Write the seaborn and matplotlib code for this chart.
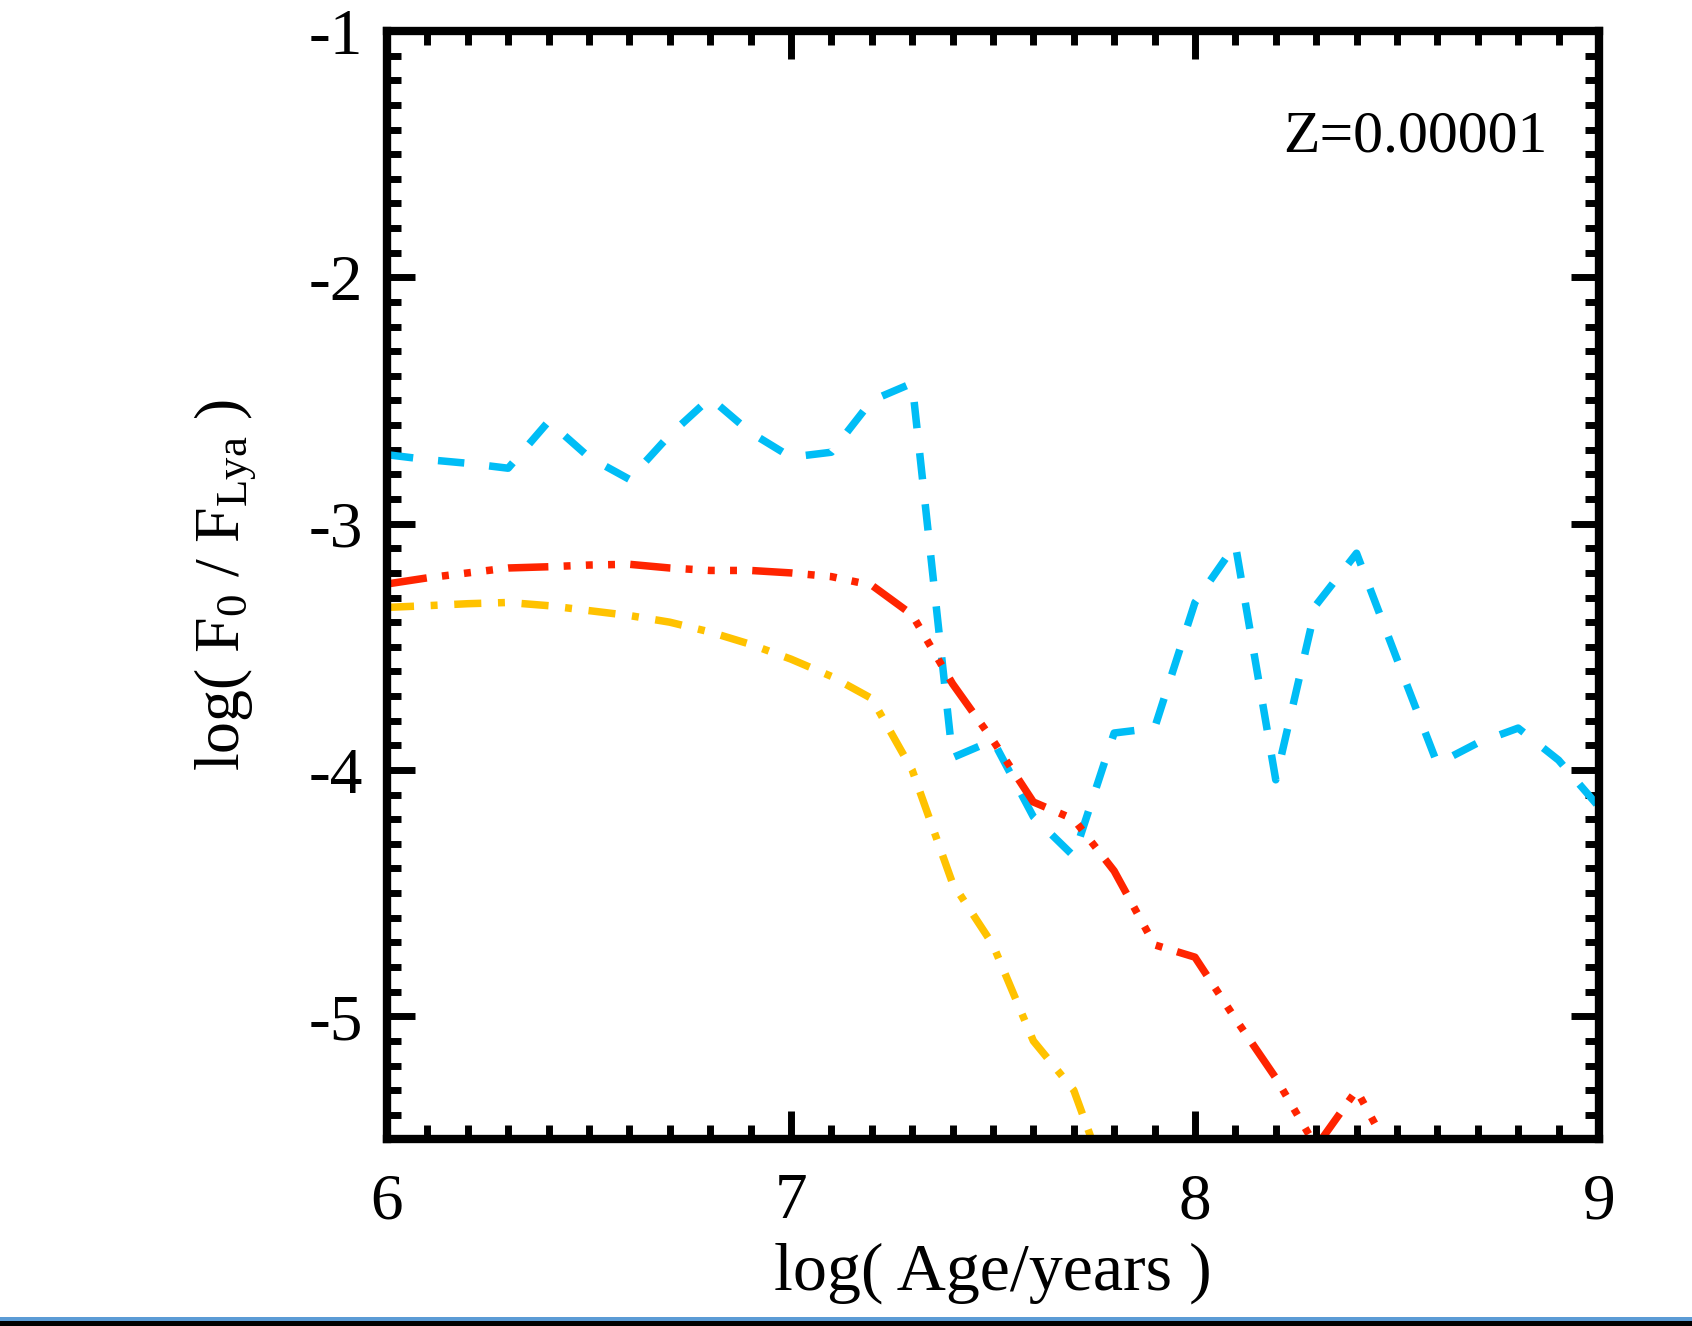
import numpy as np
import pandas as pd
import matplotlib
matplotlib.use("Agg")
import matplotlib.pyplot as plt
from matplotlib.patches import Rectangle
from matplotlib.ticker import MultipleLocator
import seaborn as sns

# log(Age/years) grid
age_blue = [6.0, 6.1, 6.2, 6.3, 6.4, 6.5, 6.6, 6.7, 6.8, 6.9, 7.0, 7.1, 7.2, 7.3,
            7.4, 7.5, 7.6, 7.7, 7.8, 7.9, 8.0, 8.1, 8.2, 8.3, 8.4, 8.5, 8.6,
            8.7, 8.8, 8.9, 9.0]
ratio_blue = [-2.72, -2.74, -2.755, -2.775, -2.585, -2.73, -2.82, -2.64, -2.49,
              -2.63, -2.73, -2.71, -2.50, -2.43, -3.95, -3.88, -4.19, -4.35,
              -3.85, -3.83, -3.32, -3.085, -4.04, -3.33, -3.12, -3.55, -3.975,
              -3.89, -3.83, -3.96, -4.15]

age_red = [6.0, 6.1, 6.2, 6.3, 6.4, 6.5, 6.6, 6.7, 6.8, 6.9, 7.0, 7.1, 7.2, 7.3,
           7.4, 7.5, 7.6, 7.7, 7.8, 7.9, 8.0, 8.1, 8.2, 8.3, 8.4, 8.5]
ratio_red = [-3.245, -3.22, -3.20, -3.18, -3.175, -3.168, -3.165, -3.18, -3.19,
             -3.19, -3.20, -3.215, -3.25, -3.37, -3.65, -3.88, -4.13, -4.20,
             -4.41, -4.71, -4.76, -5.01, -5.25, -5.53, -5.30, -5.60]

age_yellow = [6.0, 6.1, 6.2, 6.3, 6.4, 6.5, 6.6, 6.7, 6.8, 6.9, 7.0, 7.1, 7.2,
              7.3, 7.4, 7.5, 7.6, 7.7, 7.8]
ratio_yellow = [-3.34, -3.333, -3.325, -3.32, -3.333, -3.353, -3.373, -3.40,
                -3.44, -3.49, -3.55, -3.62, -3.71, -4.00, -4.46, -4.71, -5.10,
                -5.30, -5.75]

x_ticks = [6, 7, 8, 9]
y_ticks = [-1, -2, -3, -4, -5]
metallicity_label = "Z=0.00001"

sns.set_style("ticks")
plt.rcParams["font.family"] = ["Liberation Serif", "DejaVu Serif"]
plt.rcParams["mathtext.fontset"] = "custom"
plt.rcParams["mathtext.rm"] = "Liberation Serif"
plt.rcParams["mathtext.it"] = "Liberation Serif:italic"
plt.rcParams["axes.unicode_minus"] = False
plt.rcParams["lines.scale_dashes"] = False
for key in ["text.color", "axes.labelcolor", "xtick.color", "ytick.color",
            "xtick.labelcolor", "ytick.labelcolor"]:
    plt.rcParams[key] = "black"

fig = plt.figure(figsize=(16.92, 13.26), dpi=100)
ax = fig.add_axes([0.2287, 0.1407, 0.7163, 0.8359])

lw = 5.4
sns.lineplot(x=age_blue, y=ratio_blue, ax=ax, color="#00BDF6", linewidth=lw,
             linestyle=(0, (19, 18)), legend=False, errorbar=None)
sns.lineplot(x=age_red, y=ratio_red, ax=ax, color="#FF2400", linewidth=lw,
             linestyle=(0, (29, 11, 5, 11, 5, 11, 5, 11)), legend=False,
             errorbar=None)
sns.lineplot(x=age_yellow, y=ratio_yellow, ax=ax, color="#FFC200", linewidth=lw,
             linestyle=(0, (19.5, 12, 5, 12)), legend=False, errorbar=None)

ax.set_xlim(6, 9)
ax.set_ylim(-5.5, -1)
ax.set_xticks(x_ticks)
ax.set_yticks(y_ticks)
ax.set_xticklabels([str(t) for t in x_ticks])
ax.set_yticklabels([str(t) for t in y_ticks])
ax.xaxis.set_minor_locator(MultipleLocator(0.1))
ax.yaxis.set_minor_locator(MultipleLocator(0.1))

for side in ["left", "right", "top", "bottom"]:
    ax.spines[side].set_visible(True)
    ax.spines[side].set_linewidth(6)
    ax.spines[side].set_color("black")

ax.tick_params(which="both", direction="in", top=True, right=True,
               color="black", width=5)
ax.tick_params(which="major", length=20)
ax.tick_params(which="minor", length=10)
ax.tick_params(axis="x", which="major", pad=24, labelsize=47)
ax.tick_params(axis="y", which="major", pad=17, labelsize=47)

ax.set_xlabel("log( Age/years )", fontsize=49)
ax.set_ylabel(r"log( F$_0$ / F$_{\mathrm{Lya}}$ )", fontsize=46)
ax.xaxis.set_label_coords(0.5, -0.093)
ax.xaxis.label.set_va("top")
ax.yaxis.set_label_coords(-0.106, 0.5)

ax.text(0.958, 0.891, metallicity_label, transform=ax.transAxes,
        ha="right", va="baseline", fontsize=43)

# thin window border strip along the bottom edge
fig.add_artist(Rectangle((0, 0), 1, 5 / 1326, transform=fig.transFigure,
                         color="black", lw=0))
fig.add_artist(Rectangle((0, 5 / 1326), 1, 4 / 1326, transform=fig.transFigure,
                         color="#5B9BD5", lw=0))

fig.savefig("out.png", dpi=100, facecolor="white")
